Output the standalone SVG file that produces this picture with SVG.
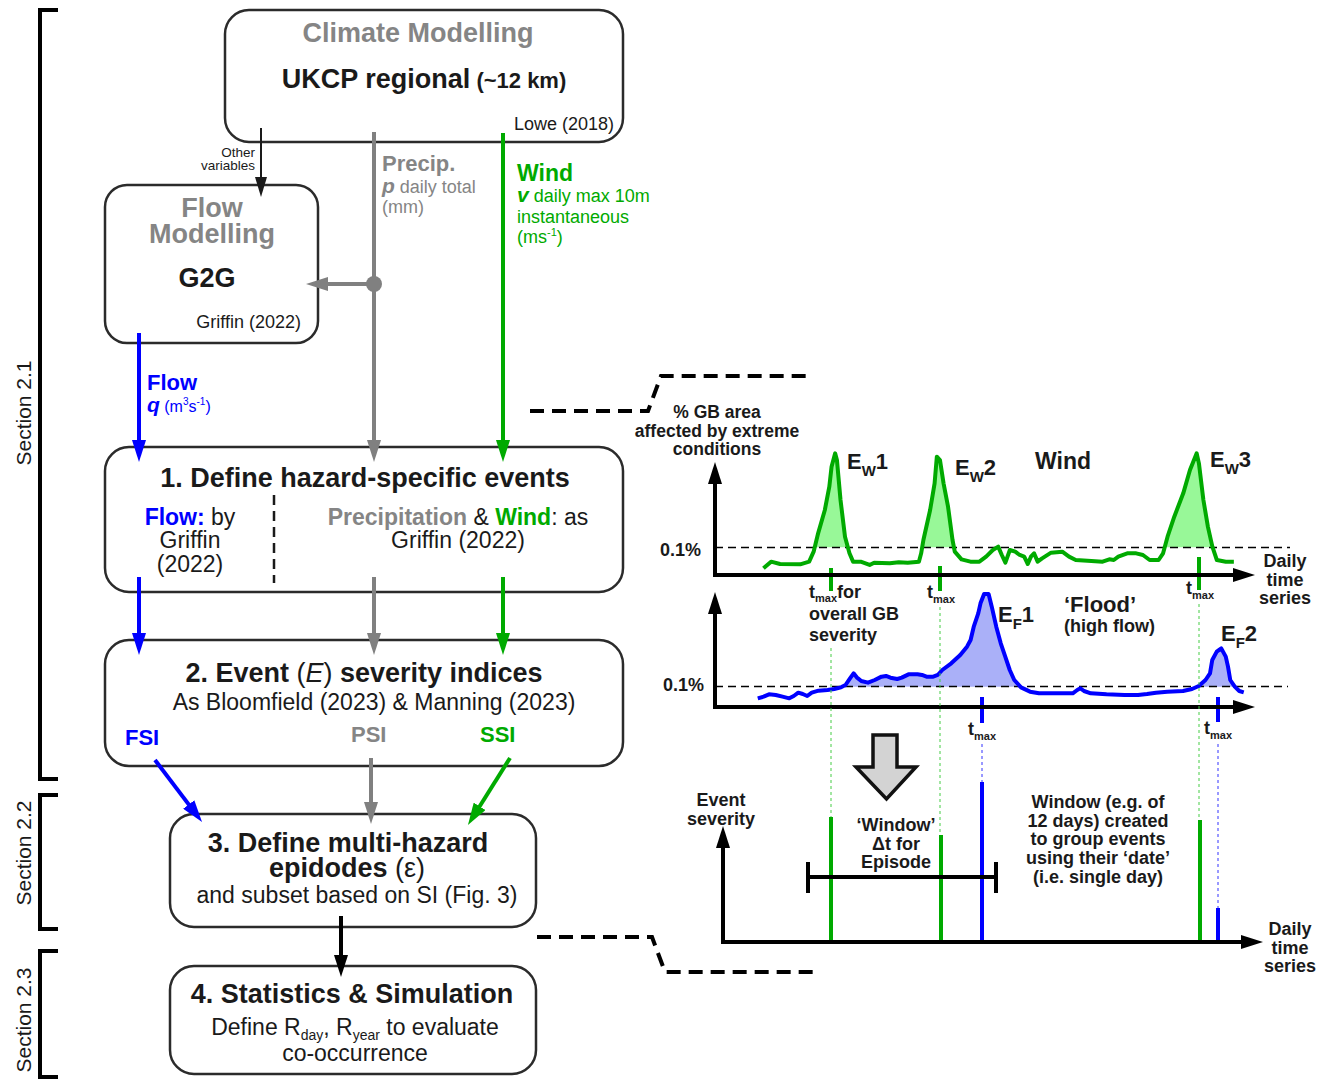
<svg xmlns="http://www.w3.org/2000/svg" width="1324" height="1079" viewBox="0 0 1324 1079">
<style>
text{font-family:"Liberation Sans",Arial,sans-serif;fill:#1a1a1a}
.b{font-weight:bold}
.g{fill:#858585}
.gr{fill:#00aa00}
.bl{fill:#0000ff}
.box{fill:#fff;stroke:#2b2b2b;stroke-width:2.5}
.t27{font-size:27px;font-weight:bold}
.s23{font-size:23px}
.s18{font-size:18px}
.c{text-anchor:middle}
.e{text-anchor:end}
.ln{fill:none;stroke-width:4}
.thr{stroke:#000;stroke-width:1.3;stroke-dasharray:8 5;fill:none}
.vd{stroke-width:1;stroke-dasharray:3 3;fill:none}
.curve{fill:none;stroke-width:4;stroke-linejoin:round;vector-effect:non-scaling-stroke}
</style>
<defs>
<marker id="ahK" markerUnits="userSpaceOnUse" viewBox="0 0 22 14" refX="14" refY="7" markerWidth="22" markerHeight="14" orient="auto"><path d="M0,0 L22,7 L0,14 z" fill="#000"/></marker>
<marker id="ahG" markerUnits="userSpaceOnUse" viewBox="0 0 22 14" refX="14" refY="7" markerWidth="22" markerHeight="14" orient="auto"><path d="M0,0 L22,7 L0,14 z" fill="#808080"/></marker>
<marker id="ahGr" markerUnits="userSpaceOnUse" viewBox="0 0 22 14" refX="14" refY="7" markerWidth="22" markerHeight="14" orient="auto"><path d="M0,0 L22,7 L0,14 z" fill="#00aa00"/></marker>
<marker id="ahB" markerUnits="userSpaceOnUse" viewBox="0 0 22 14" refX="14" refY="7" markerWidth="22" markerHeight="14" orient="auto"><path d="M0,0 L22,7 L0,14 z" fill="#0000ff"/></marker>
<marker id="ahT" markerUnits="userSpaceOnUse" viewBox="0 0 20 12" refX="16" refY="6" markerWidth="20" markerHeight="12" orient="auto"><path d="M0,0 L20,6 L0,12 z" fill="#1a1a1a"/></marker>
</defs>
<rect width="1324" height="1079" fill="#fff"/>

<g id="section-brackets" fill="none" stroke="#000" stroke-width="4">
<path d="M58,10 H40 V779 H58"/>
<path d="M58,795 H40 V929 H58"/>
<path d="M58,951 H40 V1077 H58"/>
</g>
<g id="section-labels" font-size="21">
<text transform="translate(31,413) rotate(-90)" class="c">Section 2.1</text>
<text transform="translate(31,853) rotate(-90)" class="c">Section 2.2</text>
<text transform="translate(31,1020) rotate(-90)" class="c">Section 2.3</text>
</g>

<g id="climate-modelling">
<rect class="box" x="225" y="10" width="398" height="132" rx="24"/>
<text x="418" y="42" class="t27 g c">Climate Modelling</text>
<text x="424" y="88" class="c b"><tspan font-size="27">UKCP regional</tspan><tspan font-size="22"> (~12 km)</tspan></text>
<text x="614" y="130" class="s18 e">Lowe (2018)</text>
</g>

<g id="flow-modelling">
<rect class="box" x="105" y="185" width="213" height="158" rx="22"/>
<text x="212" y="217" class="t27 g c">Flow</text>
<text x="212" y="243" class="t27 g c">Modelling</text>
<text x="207" y="287" class="t27 c">G2G</text>
<text x="301" y="328" class="s18 e">Griffin (2022)</text>
</g>

<g id="step1">
<rect class="box" x="105" y="447" width="518" height="145" rx="24"/>
<text x="365" y="487" class="t27 c">1. Define hazard-specific events</text>
<line x1="274" y1="495" x2="274" y2="583" stroke="#1a1a1a" stroke-width="2.5" stroke-dasharray="10 6"/>
<text x="190" y="525" class="s23 c"><tspan class="b bl">Flow:</tspan> by</text>
<text x="190" y="548" class="s23 c">Griffin</text>
<text x="190" y="572" class="s23 c">(2022)</text>
<text x="458" y="525" class="s23 c"><tspan class="b g">Precipitation</tspan> &amp; <tspan class="b gr">Wind</tspan>: as</text>
<text x="458" y="548" class="s23 c">Griffin (2022)</text>
</g>

<g id="step2">
<rect class="box" x="105" y="640" width="518" height="126" rx="24"/>
<text x="364" y="682" class="c" font-size="27"><tspan font-weight="bold">2. Event </tspan>(<tspan font-style="italic">E</tspan>)<tspan font-weight="bold"> severity indices</tspan></text>
<text x="374" y="710" class="s23 c">As Bloomfield (2023) &amp; Manning (2023)</text>
<text x="125" y="745" class="b bl" font-size="22">FSI</text>
<text x="351" y="742" class="b g" font-size="22">PSI</text>
<text x="480" y="742" class="b gr" font-size="22">SSI</text>
</g>

<g id="step3">
<rect class="box" x="170" y="814" width="366" height="113" rx="24"/>
<text x="348" y="852" class="t27 c">3. Define multi-hazard</text>
<text x="347" y="877" class="c" font-size="27"><tspan font-weight="bold">epidodes</tspan> (ε)</text>
<text x="357" y="903" class="s23 c">and subset based on SI (Fig. 3)</text>
</g>

<g id="step4">
<rect class="box" x="170" y="966" width="366" height="108" rx="24"/>
<text x="352" y="1003" class="t27 c">4. Statistics &amp; Simulation</text>
<text x="355" y="1035" class="s23 c">Define R<tspan font-size="14" dy="5">day</tspan><tspan dy="-5">, R</tspan><tspan font-size="14" dy="5">year</tspan><tspan dy="-5"> to evaluate</tspan></text>
<text x="355" y="1061" class="s23 c">co-occurrence</text>
</g>

<g id="connectors">
<line x1="261" y1="128" x2="261" y2="193" stroke="#1a1a1a" stroke-width="2" marker-end="url(#ahT)"/>
<line x1="374" y1="132" x2="374" y2="454" class="ln" stroke="#808080" marker-end="url(#ahG)"/>
<circle cx="374" cy="284" r="8" fill="#808080"/>
<line x1="374" y1="284" x2="314" y2="284" class="ln" stroke="#808080" marker-end="url(#ahG)"/>
<line x1="503" y1="133" x2="503" y2="454" class="ln" stroke="#00aa00" marker-end="url(#ahGr)"/>
<line x1="139" y1="333" x2="139" y2="454" class="ln" stroke="#0000ff" marker-end="url(#ahB)"/>
<line x1="139" y1="577" x2="139" y2="647" class="ln" stroke="#0000ff" marker-end="url(#ahB)"/>
<line x1="374" y1="577" x2="374" y2="647" class="ln" stroke="#808080" marker-end="url(#ahG)"/>
<line x1="503" y1="577" x2="503" y2="647" class="ln" stroke="#00aa00" marker-end="url(#ahGr)"/>
<line x1="155" y1="760" x2="197.2" y2="815.6" class="ln" stroke="#0000ff" marker-end="url(#ahB)"/>
<line x1="371" y1="758" x2="371" y2="816" class="ln" stroke="#808080" marker-end="url(#ahG)"/>
<line x1="510" y1="758" x2="472.2" y2="818.2" class="ln" stroke="#00aa00" marker-end="url(#ahGr)"/>
<line x1="341" y1="916" x2="341" y2="969" class="ln" stroke="#000" marker-end="url(#ahK)"/>
<path d="M530,411 H648 L661,376 H812" fill="none" stroke="#000" stroke-width="4" stroke-dasharray="14 8"/>
<path d="M537,937 H652 L665,972 H817" fill="none" stroke="#000" stroke-width="4" stroke-dasharray="14 8"/>
</g>

<g id="connector-labels">
<text x="255" y="157" class="e" font-size="13.5">Other</text>
<text x="255" y="170" class="e" font-size="13.5">variables</text>
<text x="382" y="171" class="b g" font-size="22">Precip.</text>
<text x="382" y="193" class="g s18"><tspan font-weight="bold" font-style="italic" font-size="21">p</tspan> daily total</text>
<text x="382" y="213" class="g s18">(mm)</text>
<text x="517" y="181" class="b gr" font-size="23">Wind</text>
<text x="517" y="202" class="gr s18"><tspan font-weight="bold" font-style="italic" font-size="21">v</tspan> daily max 10m</text>
<text x="517" y="223" class="gr s18">instantaneous</text>
<text x="517" y="243" class="gr s18">(ms<tspan font-size="11" dy="-7">-1</tspan><tspan dy="7">)</tspan></text>
<text x="147" y="390" class="b bl" font-size="22">Flow</text>
<text x="147" y="412" class="bl" font-size="16"><tspan font-weight="bold" font-style="italic" font-size="21">q</tspan> (m<tspan font-size="10" dy="-7">3</tspan><tspan dy="7">s</tspan><tspan font-size="10" dy="-7">-1</tspan><tspan dy="7">)</tspan></text>
</g>

<g id="chart-wind">
<g transform="translate(621,360) scale(0.448,0.33333)" fill="#98f898">
<polygon points="432,562 440,520 455,450 465,380 470,320 478,280 482,300 490,420 500,530 505,562"/>
<polygon points="672,562 675,540 690,450 700,370 705,290 712,300 720,370 730,440 740,540 743,562"/>
<polygon points="1213,562 1220,530 1235,470 1255,400 1270,330 1285,280 1290,310 1300,420 1310,500 1316,562"/>
</g>
<line x1="715" y1="547.5" x2="1290" y2="547.5" class="thr"/>
<polyline class="curve" stroke="#00aa00" transform="translate(621,360) scale(0.448,0.33333)" points="318,625 335,605 355,612 400,613 420,605 430,575 440,520 455,450 465,380 470,320 478,280 482,300 490,420 500,530 510,580 518,605 535,605 555,615 565,608 600,610 620,607 640,608 665,605 670,580 675,540 690,450 700,370 705,290 712,300 720,370 730,440 740,540 745,575 760,598 780,605 800,605 815,590 830,570 842,560 850,585 858,608 868,570 880,575 890,585 900,590 908,612 915,590 922,580 930,605 940,595 960,578 985,575 1000,590 1015,600 1050,603 1075,605 1090,598 1100,600 1110,590 1130,580 1150,580 1165,585 1180,600 1200,600 1210,580 1220,530 1235,470 1255,400 1270,330 1285,280 1290,310 1300,420 1310,500 1320,560 1330,600 1350,605 1368,605"/>
<g stroke="#00aa00" stroke-width="4">
<line x1="831" y1="568" x2="831" y2="591"/>
<line x1="940" y1="566" x2="940" y2="591"/>
<line x1="1199" y1="557" x2="1199" y2="590"/>
</g>
<line x1="715" y1="577" x2="715" y2="470" stroke="#000" stroke-width="4" marker-end="url(#ahK)"/>
<line x1="713" y1="575" x2="1247" y2="575" stroke="#000" stroke-width="4" marker-end="url(#ahK)"/>
<g class="b" font-size="17.5">
<text x="717" y="418" class="c">% GB area</text>
<text x="717" y="437" class="c">affected by extreme</text>
<text x="717" y="455" class="c">conditions</text>
</g>
<text x="701" y="556" class="b e s18">0.1%</text>
<g class="b s18">
<text x="1285" y="567" class="c">Daily</text>
<text x="1285" y="586" class="c">time</text>
<text x="1285" y="604" class="c">series</text>
</g>
<g class="b gr">
<text x="847" y="469" font-size="22">E<tspan font-size="15" dy="7">W</tspan><tspan dy="-7">1</tspan></text>
<text x="955" y="475" font-size="22">E<tspan font-size="15" dy="7">W</tspan><tspan dy="-7">2</tspan></text>
<text x="1210" y="467" font-size="22">E<tspan font-size="15" dy="7">W</tspan><tspan dy="-7">3</tspan></text>
<text x="1035" y="469" font-size="23">Wind</text>
<text x="809" y="598" font-size="18">t<tspan font-size="11" dy="4">max</tspan><tspan dy="-4">for</tspan></text>
<text x="809" y="620" font-size="18">overall GB</text>
<text x="809" y="641" font-size="18">severity</text>
<text x="927" y="598" font-size="18">t<tspan font-size="11" dy="5">max</tspan></text>
<text x="1186" y="594" font-size="18">t<tspan font-size="11" dy="5">max</tspan></text>
</g>
</g>

<g id="chart-flood">
<g transform="translate(620.5,580) scale(0.45,0.33333)" fill="#aab0f8">
<polygon points="495,320 500,315 510,295 518,280 525,292 535,303 550,308 565,300 580,290 590,288 600,293 615,297 625,293 640,283 660,283 670,285 680,290 695,290 705,285 715,270 735,250 755,225 770,200 778,180 785,140 795,100 800,70 808,42 818,42 825,80 835,140 845,190 855,230 865,270 875,300 882,320"/>
<polygon points="1278,320 1285,318 1300,300 1310,280 1315,240 1325,215 1335,205 1345,230 1350,260 1355,300 1362,320"/>
</g>
<line x1="715" y1="686.5" x2="1288" y2="686.5" class="thr"/>
<polyline class="curve" stroke="#0000ff" transform="translate(620.5,580) scale(0.45,0.33333)" points="305,355 318,350 330,343 345,345 360,350 375,355 385,348 395,338 405,342 415,348 425,338 440,332 460,330 475,327 490,322 500,315 510,295 518,280 525,292 535,303 550,308 565,300 580,290 590,288 600,293 615,297 625,293 640,283 660,283 670,285 680,290 695,290 705,285 715,270 735,250 755,225 770,200 778,180 785,140 795,100 800,70 808,42 818,42 825,80 835,140 845,190 855,230 865,270 875,300 890,322 910,335 930,340 960,340 1005,340 1015,330 1022,325 1030,333 1045,340 1080,343 1120,345 1150,345 1170,342 1190,338 1215,335 1250,333 1270,327 1285,318 1300,300 1310,280 1315,240 1325,215 1335,205 1345,230 1350,260 1355,300 1365,320 1375,333 1385,337"/>
<g stroke="#0000ff" stroke-width="4">
<line x1="982" y1="697" x2="982" y2="723"/>
<line x1="1218" y1="697" x2="1218" y2="722"/>
</g>
<line x1="715" y1="709" x2="715" y2="600" stroke="#000" stroke-width="4" marker-end="url(#ahK)"/>
<line x1="713" y1="707" x2="1247" y2="707" stroke="#000" stroke-width="4" marker-end="url(#ahK)"/>
<text x="704" y="691" class="b e s18">0.1%</text>
<g class="b bl">
<text x="998" y="622" font-size="22">E<tspan font-size="15" dy="7">F</tspan><tspan dy="-7">1</tspan></text>
<text x="1221" y="641" font-size="22">E<tspan font-size="15" dy="7">F</tspan><tspan dy="-7">2</tspan></text>
<text x="1064" y="612" font-size="22">‘Flood’</text>
<text x="1064" y="632" font-size="18">(high flow)</text>
<text x="968" y="735" font-size="18">t<tspan font-size="11" dy="5">max</tspan></text>
<text x="1204" y="734" font-size="18">t<tspan font-size="11" dy="5">max</tspan></text>
</g>
</g>

<g id="guides">
<g stroke="#44cc44" class="vd">
<line x1="831" y1="648" x2="831" y2="817"/>
<line x1="940" y1="607" x2="940" y2="835"/>
<line x1="1199" y1="604" x2="1199" y2="820"/>
</g>
<g stroke="#3333ff" class="vd">
<line x1="982" y1="744" x2="982" y2="782"/>
<line x1="1218" y1="744" x2="1218" y2="908"/>
</g>
</g>

<g id="transform-arrow">
<polygon points="873,735 897,735 897,767 916,767 886.5,799 856,767 873,767" fill="#d3d3d3" stroke="#111" stroke-width="3.5"/>
</g>

<g id="chart-episode">
<g stroke-width="4">
<line x1="831" y1="817" x2="831" y2="942" stroke="#00aa00"/>
<line x1="941" y1="835" x2="941" y2="942" stroke="#00aa00"/>
<line x1="982" y1="782" x2="982" y2="942" stroke="#0000ff"/>
<line x1="1200" y1="820" x2="1200" y2="942" stroke="#00aa00"/>
<line x1="1218" y1="908" x2="1218" y2="942" stroke="#0000ff"/>
</g>
<path d="M808,877 H996 M808,862 V893 M996,862 V893" stroke="#000" stroke-width="4" fill="none"/>
<line x1="723" y1="944" x2="723" y2="834" stroke="#000" stroke-width="4" marker-end="url(#ahK)"/>
<line x1="721" y1="942" x2="1255" y2="942" stroke="#000" stroke-width="4" marker-end="url(#ahK)"/>
<g class="b s18">
<text x="721" y="806" class="c">Event</text>
<text x="721" y="825" class="c">severity</text>
<text x="1290" y="935" class="c">Daily</text>
<text x="1290" y="954" class="c">time</text>
<text x="1290" y="972" class="c">series</text>
<text x="896" y="831" class="c">‘Window’</text>
<text x="896" y="850" class="c">Δt for</text>
<text x="896" y="868" class="c">Episode</text>
<text x="1098" y="808" class="c">Window (e.g. of</text>
<text x="1098" y="827" class="c">12 days) created</text>
<text x="1098" y="845" class="c">to group events</text>
<text x="1098" y="864" class="c">using their ‘date’</text>
<text x="1098" y="883" class="c">(i.e. single day)</text>
</g>
</g>
</svg>
